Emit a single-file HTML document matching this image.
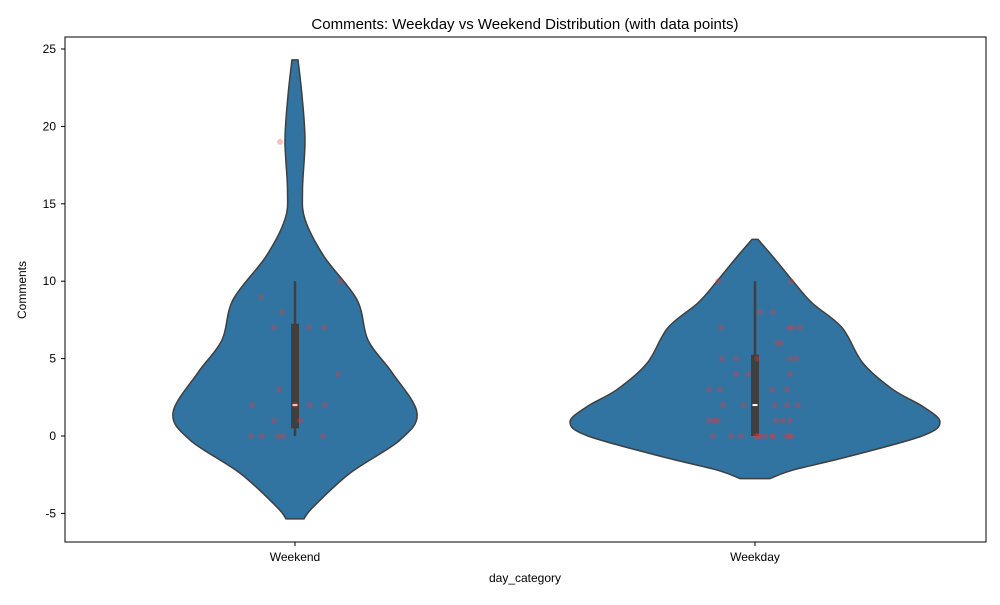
<!DOCTYPE html>
<html><head><meta charset="utf-8"><style>
body{margin:0;background:#fff;font-family:"Liberation Sans","DejaVu Sans",sans-serif}
svg text{font-family:"Liberation Sans","DejaVu Sans",sans-serif;fill:#000}
</style></head><body>
<svg id="c" width="1000" height="600" viewBox="0 0 1000 600" xmlns="http://www.w3.org/2000/svg">
<rect width="1000" height="600" fill="#fff"/>
<text x="525" y="29" text-anchor="middle" font-size="15">Comments: Weekday vs Weekend Distribution (with data points)</text>
<g id="plot"></g>
<rect x="65" y="37" width="921" height="505" fill="none" stroke="#000" stroke-width="1"/>
<text x="525" y="582" text-anchor="middle" font-size="12">day_category</text>
<text transform="translate(26,290) rotate(-90)" text-anchor="middle" font-size="12">Comments</text>
</svg>
<script>
const categories = ["Weekend", "Weekday"];
const yTicks = [-5, 0, 5, 10, 15, 20, 25];
// density outline: values and half-widths (in px)
const weekendKdeY = [24.3, 22, 19.1, 15.9, 14, 11.6, 8.8, 6.2, 4.1, 1.5, -0.26, -2.4, -4.6, -5.35];
const weekendKdeW = [3, 7, 10, 7.5, 10, 29, 62, 73, 97, 122, 105, 55, 18, 9];
const weekdayKdeY = [12.7, 11.5, 10, 8.6, 7, 4.7, 3, 1.9, 0.9, 0, -1.35, -2.2, -2.75];
const weekdayKdeW = [3, 19, 38, 57, 87, 108, 138, 168, 185, 167, 92, 38, 15];
const weekendBox = [0, 0.5, 2, 7.25, 10];
const weekdayBox = [0, 0, 2, 5.25, 10];
const weekendVals = [19,10,9,8,7,7,7,4,3,2,2,2,2,1,1,0,0,0,0,0];
const weekendJit  = [-15,45,-34,-13,-21,14,29,43,-16,-43,0,15,30,-21,5,-44,-33,-17,-12,28];
const weekdayVals = [10,10,8,8,7,7,7,7,6,6,5,5,5,5,5,4,4,4,3,3,3,3,2,2,2,2,2,1,1,1,1,1,1,0,0,0,0,0,0,0,0,0,0,0,0];
const weekdayJit  = [-37,36,5,18,-34,34,38,45,22,26,-33,-19,2,35,41,-19,-7,35,-46,-35,17,32,-32,-11,20,32,43,-46,-41,-37,21,28,35,-42,-24,-14,1,3,5,10,17,18,31,35,36];

const NS="http://www.w3.org/2000/svg";
const plot=document.getElementById('plot');
const yS=v=>436-(v)*15.48;
const xS=i=>[295,755][i];
function mk(t,a){const e=document.createElementNS(NS,t);for(const k in a)e.setAttribute(k,a[k]);return e;}
function smooth(pts){let d=`M${pts[0][0]},${pts[0][1]}`;for(let i=0;i<pts.length-1;i++){const p0=pts[Math.max(0,i-1)],p1=pts[i],p2=pts[i+1],p3=pts[Math.min(pts.length-1,i+2)];d+=` C${p1[0]+(p2[0]-p0[0])/6},${p1[1]+(p2[1]-p0[1])/6} ${p2[0]-(p3[0]-p1[0])/6},${p2[1]-(p3[1]-p1[1])/6} ${p2[0]},${p2[1]}`;}return d;}
yTicks.forEach(t=>{const y=yS(t);
 const l=mk('line',{x1:61,x2:65,y1:y,y2:y,stroke:'#000'});
 
 plot.appendChild(l);
 const tx=mk('text',{x:56,y:y+4,'text-anchor':'end','font-size':12});tx.textContent=t;
 
 plot.appendChild(tx);});
categories.forEach((c,i)=>{const x=xS(i);
 const l=mk('line',{x1:x,x2:x,y1:542,y2:546,stroke:'#000'});
 
 plot.appendChild(l);
 const tx=mk('text',{x:x,y:561,'text-anchor':'middle','font-size':12});tx.textContent=c;
 
 plot.appendChild(tx);});
const kdes=[[weekendKdeY,weekendKdeW],[weekdayKdeY,weekdayKdeW]];
const boxes=[weekendBox,weekdayBox];
kdes.forEach(([ky,kw],i)=>{const cx=xS(i);
 const right=ky.map((v,j)=>[cx+kw[j],yS(v)]);
 const left=ky.map((v,j)=>[cx-kw[j],yS(v)]).reverse();
 let d=smooth(right)+` L${left[0][0]},${left[0][1]}`+smooth(left).replace(/^M[^C]*/,' ')+'Z';
 const p=mk('path',{d:d,fill:'#3274a1',stroke:'#3f3f3f','stroke-width':1.5});
 
 plot.appendChild(p);
 const b=boxes[i];
 const w=mk('line',{x1:cx,x2:cx,y1:yS(b[0]),y2:yS(b[4]),stroke:'#3f3f3f','stroke-width':2.5});
 
 plot.appendChild(w);
 const r=mk('rect',{x:cx-4,y:yS(b[3]),width:8,height:yS(b[1])-yS(b[3]),fill:'#3f3f3f'});
 
 plot.appendChild(r);
 const m=mk('line',{x1:cx-2.5,x2:cx+2.5,y1:yS(b[2]),y2:yS(b[2]),stroke:'#fff','stroke-width':2});
 
 plot.appendChild(m);});
[[weekendVals,weekendJit],[weekdayVals,weekdayJit]].forEach(([vs,js],i)=>{vs.forEach((v,j)=>{
 const c=mk('circle',{cx:xS(i)+js[j],cy:yS(v),r:3,fill:'#ff3030','fill-opacity':0.3});
 
 plot.appendChild(c);});});
</script>
</body></html>
